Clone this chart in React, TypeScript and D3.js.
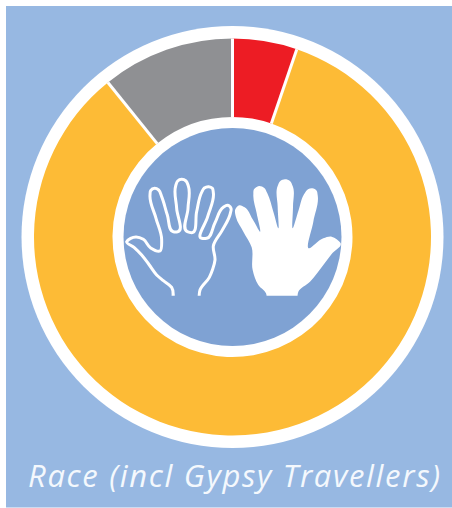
import React from "react";
import * as d3 from "d3";

const categories = ["Red", "Amber", "Grey"];
const values = [5.25, 83.95, 10.8];
const colors = ["#ED1C24", "#FDBB36", "#8F9093"];
const title = "Race (incl Gypsy Travellers)";

const W = 452, H = 508, cx = 232.5, cy = 237;

// Icon outlines in a local 720x450 design space
const outlineHand: [number, number][] = [
  [185, 440], [185, 382], [160, 362], [140, 345], [118, 315], [95, 285], [72, 262], [50, 245], [62, 235], [78, 231], [100, 238], [122, 264],
  [150, 273], [155, 240], [138, 175], [120, 105], [122, 92], [134, 85], [146, 90], [155, 110], [172, 165], [190, 215], [203, 215], [200, 145], [197, 78], [203, 63], [215, 58], [228, 63], [235, 78], [234, 145],
  [232, 215], [245, 218], [260, 155], [275, 97], [283, 84], [296, 80], [307, 85], [310, 98], [293, 170], [275, 235], [290, 235], [315, 188], [340, 142], [352, 136], [363, 145], [361, 160], [336, 212], [310, 258], [315, 300],
  [308, 328], [298, 352], [270, 390], [270, 440],
];
const filledHand: [number, number][] = [
  [468, 440], [468, 400], [445, 375], [428, 330], [425, 262], [400, 215], [378, 172], [376, 148], [388, 136], [404, 142], [428, 178], [450, 215], [440, 160], [430, 105], [432, 88], [447, 78],
  [463, 84], [472, 100], [490, 155], [505, 205], [503, 140], [503, 78], [511, 63], [525, 58], [540, 63], [548, 78], [549, 140], [548, 205], [566, 150], [585, 98], [594, 88], [607, 85], [620, 92], [623, 105], [610, 185], [597, 265],
  [640, 235], [665, 230], [680, 238], [692, 250], [665, 282], [640, 315], [600, 365], [565, 395], [565, 440],
];

export default function App() {
  const pie = d3.pie<number>().sort(null)(values);
  const arc = d3.arc<d3.PieArcDatum<number>>().innerRadius(120).outerRadius(198.5);
  const line = d3.line().curve(d3.curveCatmullRom.alpha(1));
  const sep = d3.scaleLinear().domain([0, 1]).range([120, 198.5]);
  return (
    <svg width={W} height={H} style={{ position: "absolute", left: 0, top: 0 }}>
      <defs>
        <clipPath id="wrist">
          <rect x={0} y={0} width={720} height={407} />
        </clipPath>
      </defs>
      <rect x={6} y={6} width={W - 6} height={H - 6.5} fill="#97B8E2" />
      <circle cx={cx} cy={cy} r={211} fill="#fff" />
      <g transform={`translate(${cx},${cy})`}>
        {pie.map((d, i) => (
          <path key={categories[i]} d={arc(d) ?? ""} fill={colors[i]} />
        ))}
        {pie.map((d, i) => {
          const a = d.startAngle - Math.PI / 2;
          return (
            <line
              key={i}
              x1={sep(0) * Math.cos(a)}
              y1={sep(0) * Math.sin(a)}
              x2={sep(1) * Math.cos(a)}
              y2={sep(1) * Math.sin(a)}
              stroke="#fff"
              strokeWidth={3}
            />
          );
        })}
        <circle r={109} fill="#7FA2D3" />
      </g>
      <g transform="translate(110,160) scale(0.33333)" clipPath="url(#wrist)">
        <path d={line(outlineHand) ?? ""} fill="none" stroke="#fff" strokeWidth={9} strokeLinejoin="round" />
        <path d={(line(filledHand) ?? "") + "Z"} fill="#fff" />
      </g>
      <text
        x={28}
        y={487}
        textLength={412}
        lengthAdjust="spacing"
        fill="#F4F8FD"
        fontFamily="'Open Sans', 'Noto Sans', sans-serif"
        fontStyle="italic"
        fontSize={31}
      >
        {title}
      </text>
    </svg>
  );
}
